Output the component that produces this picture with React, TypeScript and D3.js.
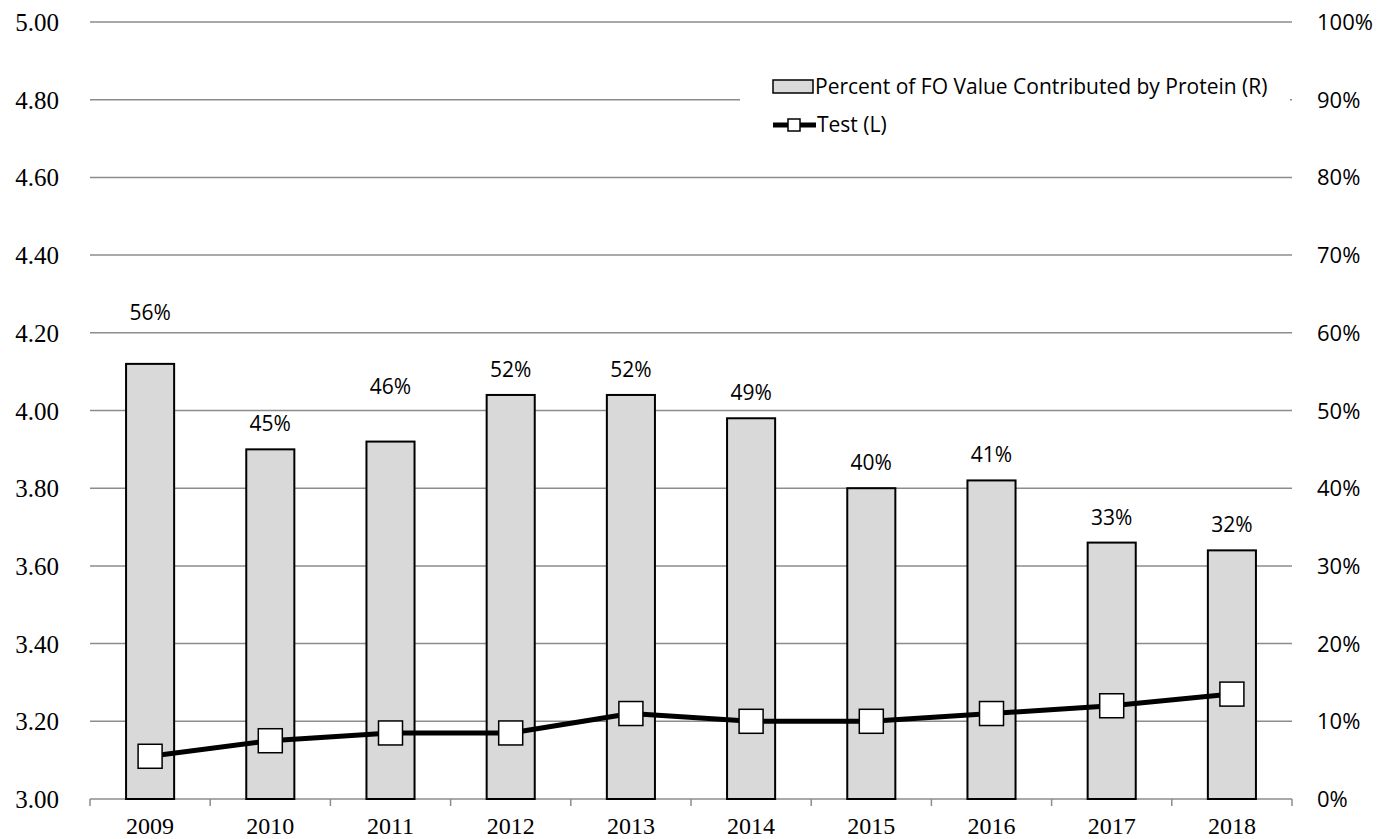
import React from "react";
import * as d3 from "d3";

const years = ["2009", "2010", "2011", "2012", "2013", "2014", "2015", "2016", "2017", "2018"];
const proteinShare = [0.56, 0.45, 0.46, 0.52, 0.52, 0.49, 0.40, 0.41, 0.33, 0.32];
const testValues = [3.11, 3.15, 3.17, 3.17, 3.22, 3.20, 3.20, 3.22, 3.24, 3.27];
const leftTicks = [3.0, 3.2, 3.4, 3.6, 3.8, 4.0, 4.2, 4.4, 4.6, 4.8, 5.0];
const rightTicks = [0, 0.1, 0.2, 0.3, 0.4, 0.5, 0.6, 0.7, 0.8, 0.9, 1.0];
const barLabel = "Percent of FO Value Contributed by Protein (R)";
const lineLabel = "Test (L)";

const W = 1381;
const H = 839;
const left = 90;
const right = 1292;
const top = 22;
const bottom = 799;

const SERIF = "'Liberation Serif', 'Times New Roman', serif";
const SANS = "'Open Sans', 'Noto Sans', sans-serif";
const GRID = "#8c8c8c";

export default function App() {
  const x = d3.scaleBand<string>().domain(years).range([left, right]).paddingInner(0.6).paddingOuter(0.3);
  const yL = d3.scaleLinear().domain([3, 5]).range([bottom, top]);
  const yR = d3.scaleLinear().domain([0, 1]).range([bottom, top]);
  const step = x.step();
  const bw = x.bandwidth();
  const cx = (y: string) => (x(y) as number) + bw / 2;

  const line = d3
    .line<number>()
    .x((_, i) => cx(years[i]))
    .y((d) => yL(d));

  const labelExtra: Record<number, number> = { 0: 26, 2: 30 };
  const boundaries = d3.range(years.length + 1).map((k) => left + k * step);
  const ms = 24;

  return (
    <svg width={W} height={H} style={{ position: "absolute", left: 0, top: 0, background: "#fff", display: "block" }}>
      {/* gridlines */}
      {leftTicks.slice(1).map((t) => (
        <line key={t} x1={left} x2={right} y1={yL(t)} y2={yL(t)} stroke={GRID} strokeWidth={1.5} />
      ))}
      {/* x axis */}
      <line x1={left} x2={right} y1={bottom} y2={bottom} stroke={GRID} strokeWidth={1.5} />
      {boundaries.map((b, i) => (
        <line key={i} x1={b} x2={b} y1={bottom} y2={bottom + 7} stroke={GRID} strokeWidth={1.5} />
      ))}
      {/* left ticks */}
      {leftTicks.map((t) => (
        <text key={t} x={59} y={yL(t) + 9} textAnchor="end" fontFamily={SERIF} fontSize={25} fill="#000">
          {d3.format(".2f")(t)}
        </text>
      ))}
      {/* right ticks */}
      {rightTicks.map((t) => (
        <text key={t} x={1317} y={yR(t) + 8} textAnchor="start" fontFamily={SANS} fontSize={22} fill="#000">
          {d3.format(".0%")(t)}
        </text>
      ))}
      {/* x labels */}
      {years.map((y) => (
        <text key={y} x={cx(y)} y={834} textAnchor="middle" fontFamily={SERIF} fontSize={24} fill="#000">
          {y}
        </text>
      ))}
      {/* bars */}
      {proteinShare.map((v, i) => (
        <rect
          key={years[i]}
          x={x(years[i])}
          y={yR(v)}
          width={bw}
          height={bottom - yR(v)}
          fill="#d9d9d9"
          stroke="#000"
          strokeWidth={2}
        />
      ))}
      {/* bar labels */}
      {proteinShare.map((v, i) => (
        <text
          key={"l" + years[i]}
          x={cx(years[i])}
          y={yR(v) - 26 - (labelExtra[i] || 0) + 8}
          textAnchor="middle"
          fontFamily={SANS}
          fontSize={21}
          fill="#000"
        >
          {d3.format(".0%")(v)}
        </text>
      ))}
      {/* line */}
      <path d={line(testValues) || ""} fill="none" stroke="#000" strokeWidth={5} strokeLinejoin="round" />
      {testValues.map((v, i) => (
        <rect
          key={"m" + years[i]}
          x={cx(years[i]) - ms / 2}
          y={yL(v) - ms / 2}
          width={ms}
          height={ms}
          fill="#fff"
          stroke="#000"
          strokeWidth={1.5}
        />
      ))}
      {/* legend */}
      <rect x={740} y={62} width={550} height={84} fill="#fff" />
      <rect x={773} y={80} width={40} height={13} fill="#d9d9d9" stroke="#000" strokeWidth={1.5} />
      <text x={815} y={94} fontFamily={SANS} fontSize={21} fill="#000">
        {barLabel}
      </text>
      <line x1={773} x2={816} y1={125} y2={125} stroke="#000" strokeWidth={5} />
      <rect x={788} y={119} width={12} height={12} fill="#fff" stroke="#000" strokeWidth={1.5} />
      <text x={817} y={132} fontFamily={SANS} fontSize={21} fill="#000">
        {lineLabel}
      </text>
    </svg>
  );
}
